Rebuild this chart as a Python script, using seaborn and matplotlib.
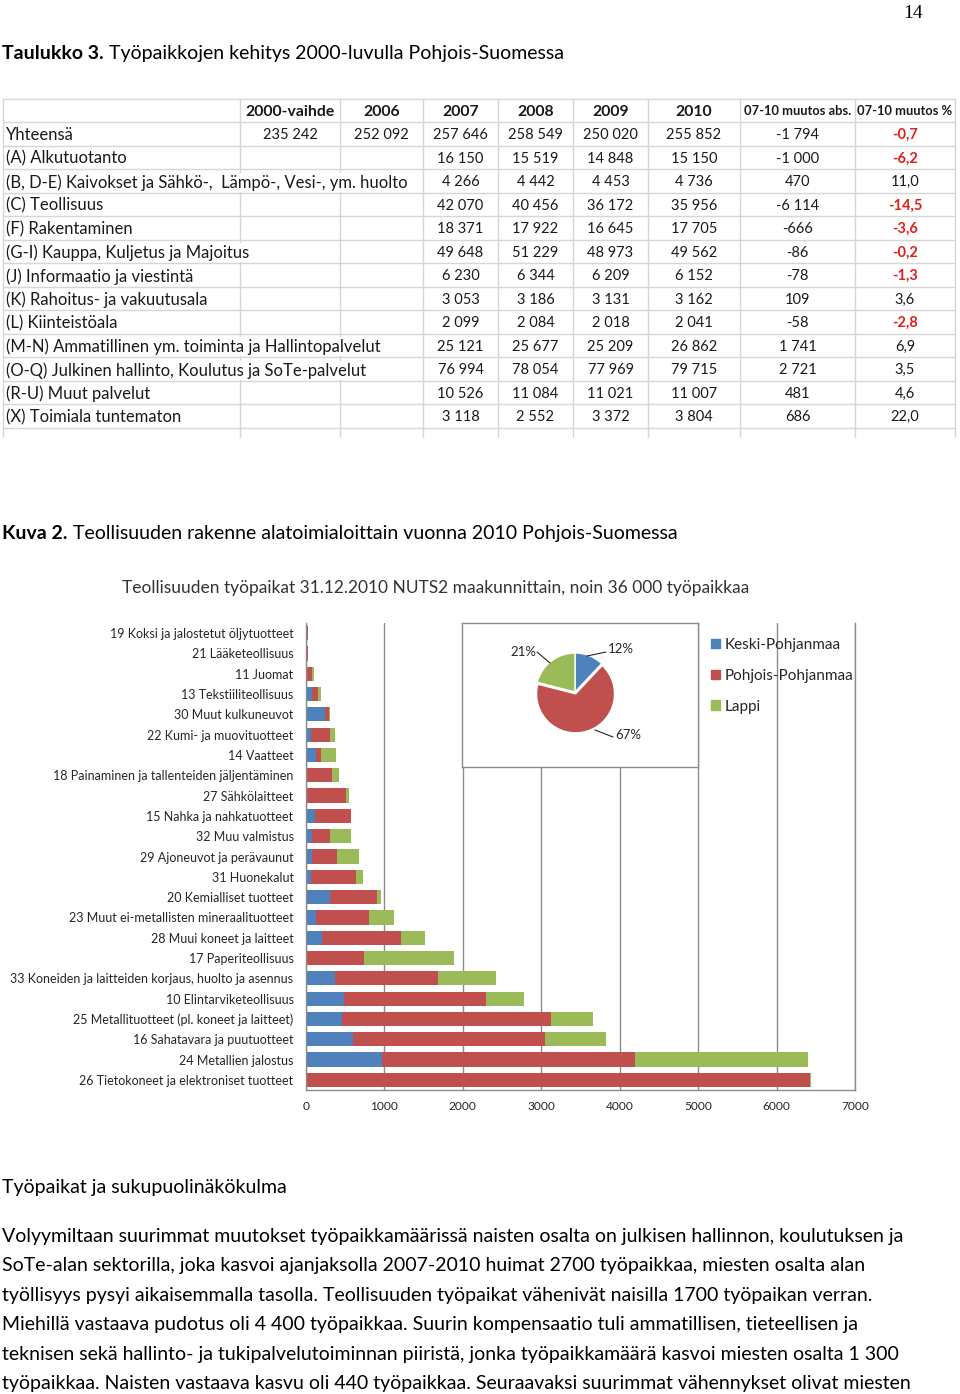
import matplotlib
matplotlib.use("Agg")
import matplotlib.pyplot as plt
from matplotlib.lines import Line2D
from matplotlib.patches import Patch
import seaborn as sns
import pandas as pd

# --- taulukko 3 ---
table_rows = ["Yhteensä", "(A) Alkutuotanto",
              "(B, D-E) Kaivokset ja Sähkö-,  Lämpö-, Vesi-, ym. huolto",
              "(C) Teollisuus", "(F) Rakentaminen", "(G-I) Kauppa, Kuljetus ja Majoitus",
              "(J) Informaatio ja viestintä", "(K) Rahoitus- ja vakuutusala", "(L) Kiinteistöala",
              "(M-N) Ammatillinen ym. toiminta ja Hallintopalvelut",
              "(O-Q) Julkinen hallinto, Koulutus ja SoTe-palvelut",
              "(R-U) Muut palvelut", "(X) Toimiala tuntematon"]
table_headers = ["", "2000-vaihde", "2006", "2007", "2008", "2009", "2010",
                 "07-10 muutos abs.", "07-10 muutos %"]
v2000 = [235242] + [None] * 12
v2006 = [252092] + [None] * 12
v2007 = [257646, 16150, 4266, 42070, 18371, 49648, 6230, 3053, 2099, 25121, 76994, 10526, 3118]
v2008 = [258549, 15519, 4442, 40456, 17922, 51229, 6344, 3186, 2084, 25677, 78054, 11084, 2552]
v2009 = [250020, 14848, 4453, 36172, 16645, 48973, 6209, 3131, 2018, 25209, 77969, 11021, 3372]
v2010 = [255852, 15150, 4736, 35956, 17705, 49562, 6152, 3162, 2041, 26862, 79715, 11007, 3804]
muutos_abs = [-1794, -1000, 470, -6114, -666, -86, -78, 109, -58, 1741, 2721, 481, 686]
muutos_pct = [-0.7, -6.2, 11.0, -14.5, -3.6, -0.2, -1.3, 3.6, -2.8, 6.9, 3.5, 4.6, 22.0]

# --- kuva 2 ---
toimialat = ["19 Koksi ja jalostetut öljytuotteet", "21 Lääketeollisuus", "11 Juomat",
             "13 Tekstiiliteollisuus", "30 Muut kulkuneuvot", "22 Kumi- ja muovituotteet",
             "14 Vaatteet", "18 Painaminen ja tallenteiden jäljentäminen", "27 Sähkölaitteet",
             "15 Nahka ja nahkatuotteet", "32 Muu valmistus", "29 Ajoneuvot ja perävaunut",
             "31 Huonekalut", "20 Kemialliset tuotteet", "23 Muut ei-metallisten mineraalituotteet",
             "28 Muui koneet ja laitteet", "17 Paperiteollisuus",
             "33 Koneiden ja laitteiden korjaus, huolto ja asennus", "10 Elintarviketeollisuus",
             "25 Metallituotteet (pl. koneet ja laitteet)", "16 Sahatavara ja puutuotteet",
             "24 Metallien jalostus", "26 Tietokoneet ja elektroniset tuotteet"]
keski_pohjanmaa = [0, 0, 0, 80, 245, 65, 130, 15, 5, 110, 75, 80, 65, 310, 130, 200, 10,
                   365, 480, 460, 595, 975, 0]
pohjois_pohjanmaa = [20, 30, 75, 75, 50, 245, 65, 320, 510, 460, 230, 315, 570, 600, 675,
                     1010, 725, 1315, 1815, 2660, 2450, 3220, 6430]
lappi = [5, 0, 30, 40, 5, 65, 185, 80, 35, 5, 275, 280, 90, 40, 315, 305, 1150, 745, 480,
         545, 775, 2200, 10]
maakunnat = ["Keski-Pohjanmaa", "Pohjois-Pohjanmaa", "Lappi"]
osuudet = [12, 67, 21]

teksti_rivit = [
    "Volyymiltaan suurimmat muutokset työpaikkamäärissä naisten osalta on julkisen hallinnon, koulutuksen ja",
    "SoTe-alan sektorilla, joka kasvoi ajanjaksolla 2007-2010 huimat 2700 työpaikkaa, miesten osalta alan",
    "työllisyys pysyi aikaisemmalla tasolla. Teollisuuden työpaikat vähenivät naisilla 1700 työpaikan verran.",
    "Miehillä vastaava pudotus oli 4 400 työpaikkaa. Suurin kompensaatio tuli ammatillisen, tieteellisen ja",
    "teknisen sekä hallinto- ja tukipalvelutoiminnan piiristä, jonka työpaikkamäärä kasvoi miesten osalta 1 300",
    "työpaikkaa. Naisten vastaava kasvu oli 440 työpaikkaa. Seuraavaksi suurimmat vähennykset olivat miesten",
]

BLUE, RED, GREEN = "#4F81BD", "#C0504D", "#9BBB59"
W, H = 960, 1394
TXT = "#1a1a1a"

sns.set_theme(style="white")
plt.rcParams["font.family"] = ["Lato", "DejaVu Sans"]

fig = plt.figure(figsize=(W / 100, H / 100), dpi=100)
renderer = fig.canvas.get_renderer()


def put(x, y, s, **kw):
    kw.setdefault("va", "center_baseline")
    return fig.text(x / W, 1 - y / H, s, **kw)


def hline(x0, x1, y, **kw):
    fig.add_artist(Line2D([x0 / W, x1 / W], [1 - y / H, 1 - y / H], transform=fig.transFigure, **kw))


def vline(x, y0, y1, **kw):
    fig.add_artist(Line2D([x / W, x / W], [1 - y0 / H, 1 - y1 / H], transform=fig.transFigure, **kw))


def rect(x0, y0, x1, y1):
    return [x0 / W, 1 - y1 / H, (x1 - x0) / W, (y1 - y0) / H]


def heading(x, y, bold, rest, size):
    t = put(x, y, bold, fontsize=size, fontweight="bold", color="black")
    bb = t.get_window_extent(renderer=renderer)
    put(bb.x1, y, " " + rest, fontsize=size, color="black")


def num(v):
    return "" if v is None else f"{v:,}".replace(",", " ")


# page number
put(913, 12, "14", fontsize=14, family="Liberation Serif", ha="center", color="black")

heading(2, 52, "Taulukko 3.", "Työpaikkojen kehitys 2000-luvulla Pohjois-Suomessa", 14)

# table grid
col_edges = [3, 240, 340, 423, 498, 573, 648, 740, 855, 955]
row_h = 23.5
top = 98.5
grid_kw = dict(color="#d6d6d6", lw=1)
for k in range(len(table_rows) + 2):
    hline(col_edges[0], col_edges[-1], top + k * row_h, **grid_kw)
for x in col_edges:
    vline(x, top, 437, **grid_kw)

centers = [(a + b) / 2 for a, b in zip(col_edges[:-1], col_edges[1:])]
for j, h in enumerate(table_headers[1:], start=1):
    put(centers[j], top + row_h / 2, h, ha="center", fontweight="bold",
        fontsize=9.3 if "muutos" in h else 11.3, color=TXT)

for i, name in enumerate(table_rows):
    y = top + row_h * (i + 1.5)
    put(6, y, name, fontsize=12, color=TXT,
        bbox=dict(facecolor="white", edgecolor="none", pad=1))
    vals = [v2000[i], v2006[i], v2007[i], v2008[i], v2009[i], v2010[i], muutos_abs[i]]
    for j, v in enumerate(vals, start=1):
        put(centers[j], y, num(v), ha="center", fontsize=10.5, color=TXT)
    p = muutos_pct[i]
    put(centers[8], y, f"{p:.1f}".replace(".", ","), ha="center", fontsize=10.5,
        color="#E0201B" if p < 0 else TXT, fontweight="bold" if p < 0 else "normal")

heading(2, 532, "Kuva 2.", "Teollisuuden rakenne alatoimialoittain vuonna 2010 Pohjois-Suomessa", 14)

put(436, 586, "Teollisuuden työpaikat 31.12.2010 NUTS2 maakunnittain, noin 36 000 työpaikkaa",
    ha="center", fontsize=12.5, color="#333333")

# stacked bars: draw totals first, then overlay partial sums
df = pd.DataFrame({"toimiala": toimialat, "keski": keski_pohjanmaa,
                   "pohjois": pohjois_pohjanmaa, "lappi": lappi})
df["kp"] = df["keski"] + df["pohjois"]
df["total"] = df["kp"] + df["lappi"]

ax = fig.add_axes(rect(306, 623, 855, 1090))
for col, c in [("total", GREEN), ("kp", RED), ("keski", BLUE)]:
    sns.barplot(data=df, x=col, y="toimiala", orient="h", color=c, saturation=1,
                width=0.7, linewidth=0, ax=ax)
ax.set_xlim(0, 7000)
ax.set_xticks(range(0, 7001, 1000))
ax.set_xlabel("")
ax.set_ylabel("")
ax.grid(axis="x", color="#8c8c8c", lw=1)
ax.set_axisbelow(True)
ax.spines["top"].set_visible(False)
for s in ["left", "bottom", "right"]:
    ax.spines[s].set_color("#8c8c8c")
    ax.spines[s].set_linewidth(1)
ax.tick_params(axis="y", length=0, pad=9, labelsize=9, colors="#262626")
ax.tick_params(axis="x", length=0, pad=8, labelsize=8.6, colors="#262626")

ax.legend(handles=[Patch(color=c) for c in (BLUE, RED, GREEN)], labels=maakunnat,
          loc="upper left", bbox_to_anchor=(711 / W, 1 - 638 / H), bbox_transform=fig.transFigure,
          frameon=False, fontsize=11, handlelength=0.6, handleheight=0.6, handletextpad=0.3,
          labelspacing=1.1, borderaxespad=0, borderpad=0, labelcolor="#262626")

# inset pie
cx, cy, r = 575, 692, 39
pax = fig.add_axes(rect(462, 623, 698, 767))
pax.pie(osuudet, colors=[BLUE, RED, GREEN], startangle=90, counterclock=False,
        explode=[0, 0.05, 0], wedgeprops=dict(edgecolor="white", linewidth=1), frame=True)
pax.set_aspect("auto")
pax.set_xlim(-(cx - 462) / r, (698 - cx) / r)
pax.set_ylim(-(767 - cy) / r, (cy - 623) / r)
pax.set_xticks([])
pax.set_yticks([])
pax.set_facecolor("white")
for s in pax.spines.values():
    s.set_color("#8c8c8c")
    s.set_linewidth(1)


def pd_xy(px, py):
    return (px - cx) / r, (cy - py) / r


label_pos = [(608, 649, "left"), (615, 735, "left"), (536, 652, "right")]
leaders = [((587, 656), (606, 652)), ((595, 730), (613, 737)), ((550, 663), (537, 652))]
for share, (lx, ly, ha), (p0, p1) in zip(osuudet, label_pos, leaders):
    pax.text(*pd_xy(lx, ly), f"{share}%", ha=ha, va="center", fontsize=9.5, color="#262626")
    (x0, y0), (x1, y1) = pd_xy(*p0), pd_xy(*p1)
    pax.plot([x0, x1], [y0, y1], color="#262626", lw=0.8)

put(2, 1186, "Työpaikat ja sukupuolinäkökulma", fontsize=14, color="black")
for k, line in enumerate(teksti_rivit):
    put(2, 1235 + k * 29.4, line, fontsize=14, color="black")

fig.savefig("out.png", dpi=100)
